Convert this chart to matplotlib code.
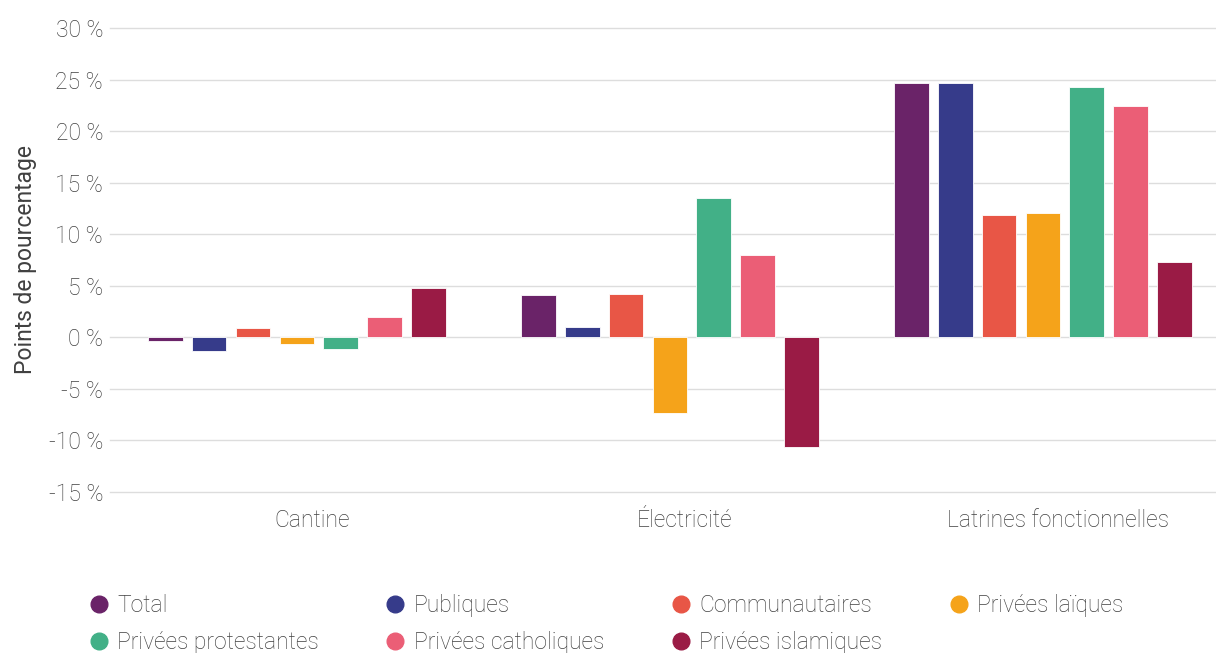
import matplotlib.pyplot as plt
from matplotlib.lines import Line2D
import numpy as np

plt.rcParams['font.family'] = ['Roboto', 'DejaVu Sans']
plt.rcParams['font.weight'] = 'light'

categories = ['Cantine', 'Électricité', 'Latrines fonctionnelles']
series = ['Total', 'Publiques', 'Communautaires', 'Privées laïques',
          'Privées protestantes', 'Privées catholiques', 'Privées islamiques']
total = [-0.4, 4.15, 24.7]
publiques = [-1.3, 1.05, 24.65]
communautaires = [0.95, 4.25, 11.85]
laiques = [-0.6, -7.35, 12.05]
protestantes = [-1.1, 13.55, 24.3]
catholiques = [2.0, 7.95, 22.4]
islamiques = [4.8, -10.6, 7.3]
values = [total, publiques, communautaires, laiques, protestantes, catholiques, islamiques]
colors = ['#6A2368', '#363B8A', '#E85646', '#F5A31A', '#42B087', '#EB5E76', '#9A1B45']
yticks = [-15, -10, -5, 0, 5, 10, 15, 20, 25, 30]
txt = '#404040'

fig = plt.figure(figsize=(12.16, 6.53), dpi=100)
ax = fig.add_axes([110 / 1216, 1 - 492 / 653, 1 - 110 / 1216, (492 - 28) / 653])

x = np.arange(len(categories))
step = 0.1176
width = 0.093
for i, (name, vals) in enumerate(zip(series, values)):
    ax.bar(x + (i - 3) * step, vals, width, color=colors[i], label=name,
           edgecolor='white', linewidth=0.6, zorder=3)

ax.set_xlim(-0.501, 2.464)
ax.set_ylim(-15, 30)
ax.set_yticks(yticks)
ax.set_yticklabels([f'{t} %' for t in yticks])
ax.set_xticks(x + 0.04)
ax.set_xticklabels(categories)
for t in yticks:
    ax.axhline(t, color='#dddddd', linewidth=1, zorder=0, clip_on=False)
for s in ax.spines.values():
    s.set_visible(False)
ax.tick_params(length=0, labelsize=16.5, colors=txt)
ax.tick_params(axis='y', pad=5)
ax.tick_params(axis='x', pad=12)
ax.set_ylabel('Points de pourcentage', fontsize=16.5, color=txt)
ax.yaxis.set_label_coords(-0.066, 0.5)

handles = [Line2D([], [], marker='o', linestyle='', markersize=12,
                  markerfacecolor=c, markeredgecolor=c) for c in colors]
order = [0, 4, 1, 5, 2, 6, 3]
fig.legend([handles[i] for i in order], [series[i] for i in order], ncol=4,
           loc='upper left', bbox_to_anchor=(70 / 1216, 1 - 578 / 653),
           frameon=False, fontsize=16.5, labelcolor=txt,
           handletextpad=0.25, columnspacing=2.8, labelspacing=0.62,
           handlelength=1.1, borderpad=0.2)

plt.savefig('out.png', dpi=100)
